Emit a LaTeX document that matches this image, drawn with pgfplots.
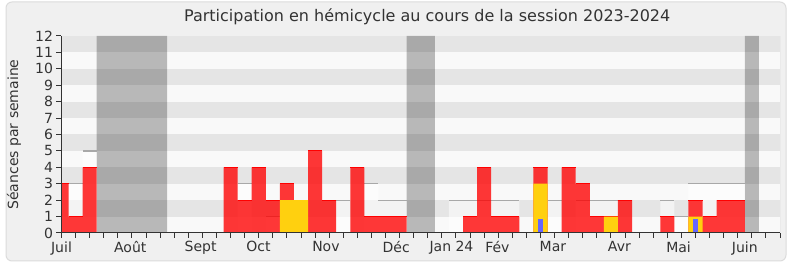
\documentclass[border=0pt]{standalone}
\usepackage{pgfplots}
\pgfplotsset{compat=1.18}
\usepackage{pgfplotstable}
\usepackage{fontspec}
\setmainfont{DejaVu Sans}
\definecolor{bandD}{HTML}{E5E5E5}
\definecolor{bandL}{HTML}{F9F9F9}
\definecolor{framebg}{HTML}{F0F0F0}
\definecolor{framebd}{HTML}{DCDCDC}
\definecolor{txt}{HTML}{333333}
\definecolor{medline}{HTML}{A8A8A8}
\definecolor{ye}{HTML}{FFD00F}
\definecolor{bl}{HTML}{6666FF}

% weekly presences (red)
\pgfplotstableread{
w v
0 3
1 1
2 4
12 4
13 2
14 4
15 2
16 3
17 2
18 5
19 2
21 4
22 1
23 1
24 1
29 1
30 4
31 1
32 1
34 4
36 4
37 3
38 1
39 1
40 2
43 1
45 2
46 1
47 2
48 2
}\redtab

% interventions (yellow)
\pgfplotstableread{
w v
16 2
17 2
34 3
39 1
45 1
}\yetab

% questions (blue)
\pgfplotstableread{
w v
34 0.85
45 0.85
}\bltab

% vacations
\pgfplotstableread{
w v
3 12
4 12
5 12
6 12
7 12
25 12
26 12
49 12
}\vactab

% median of deputies
\pgfplotstableread{
w v
0 3
1 3
2 5
13 3
15 1
20 2
22 3
23 2
24 2
28 2
29 2
30 2
31 2
32 2
35 2
37 2
38 2
39 2
43 2
44 1
45 3
46 3
47 3
48 3
}\medtab

\begin{document}
\begin{tikzpicture}
\useasboundingbox (0pt,0pt) rectangle (790pt,267pt);
\fill[white] (0pt,0pt) rectangle (790pt,267pt);
\filldraw[fill=framebg, draw=framebd, line width=1pt, rounded corners=6pt] (6pt,6pt) rectangle (786pt,265pt);
\begin{axis}[
  at={(61.5pt,34pt)}, anchor=south west,
  scale only axis, width=718.5pt, height=197pt,
  xmin=0, xmax=51, ymin=0, ymax=12,
  axis x line*=bottom, axis y line*=left,
  axis line style={color=txt, line width=1pt},
  xtick={0,4.88,9.87,13.98,18.77,23.76,27.68,30.94,34.88,39.6,43.8,48.5},
  xticklabels={Juil,Août,Sept,Oct,Nov,Déc,Jan 24,Fév,Mar,Avr,Mai,Juin},
  major x tick style={draw=none},
  minor xtick={0,...,51},
  ytick={0,...,12},
  tick align=outside, major tick length=5pt, minor tick length=5pt,
  every tick/.style={color=txt, line width=1pt},
  tick label style={font=\fontsize{14}{14}\selectfont, color=txt},
  /pgf/number format/assume math mode=true,
  title={Participation en hémicycle au cours de la session 2023-2024},
  title style={font=\fontsize{16}{16}\selectfont, color=txt, at={(axis description cs:0.509,1)}, anchor=south, yshift=1.5pt},
  ylabel={Séances par semaine},
  ylabel style={font=\fontsize{14}{14}\selectfont, color=txt, at={(axis description cs:-0.066,0.5)}, anchor=center},
  axis on top,
]
% background bands
\fill[bandL] (axis cs:0,0) rectangle (axis cs:51,12);
\fill[bandD] (axis cs:0,1) rectangle (axis cs:51,2);
\fill[bandD] (axis cs:0,3) rectangle (axis cs:51,4);
\fill[bandD] (axis cs:0,5) rectangle (axis cs:51,6);
\fill[bandD] (axis cs:0,7) rectangle (axis cs:51,8);
\fill[bandD] (axis cs:0,9) rectangle (axis cs:51,10);
\fill[bandD] (axis cs:0,11) rectangle (axis cs:51,12);
% vacations
\addplot[ybar, bar width=1, bar shift=0pt, draw=none, fill=black, fill opacity=0.26] table[x=w,y=v] {\vactab};
% median
\addplot[ybar, bar width=1, bar shift=0pt, draw=none, fill=white, fill opacity=0.55] table[x=w,y=v] {\medtab};
\addplot[draw=none, mark=none, error bars/.cd, x dir=both, x fixed=0.5, error mark=none,
  error bar style={draw=medline, line width=1.3pt}] table[x=w,y=v] {\medtab};
% presences
\addplot[ybar, bar width=1, bar shift=0pt, draw=none, fill=red, fill opacity=0.78] table[x=w,y=v] {\redtab};
\addplot[draw=none, mark=none, error bars/.cd, x dir=both, x fixed=0.5, error mark=none,
  error bar style={draw=red, line width=1pt}] table[x=w,y=v] {\redtab};
% interventions
\addplot[ybar, bar width=1, bar shift=0pt, draw=none, fill=ye] table[x=w,y=v] {\yetab};
% questions
\addplot[ybar, bar width=0.33, bar shift=0pt, draw=none, fill=bl] table[x=w,y=v] {\bltab};
\draw[black!22, line width=1pt] (axis cs:51,0) -- (axis cs:51,12);
\end{axis}
% small weekly ticks along the top edge
\begin{axis}[
  at={(61.5pt,34pt)}, anchor=south west,
  scale only axis, width=718.5pt, height=197pt,
  xmin=0, xmax=51, ymin=0, ymax=12,
  axis x line*=top, axis y line=none,
  axis line style={draw=none},
  xtick=\empty, minor xtick={0,...,51},
  tick align=outside, minor tick length=1.5pt,
  every tick/.style={color=txt, line width=0.8pt},
]
\addplot[draw=none] coordinates {(0,0)};
\end{axis}
\end{tikzpicture}
\end{document}
